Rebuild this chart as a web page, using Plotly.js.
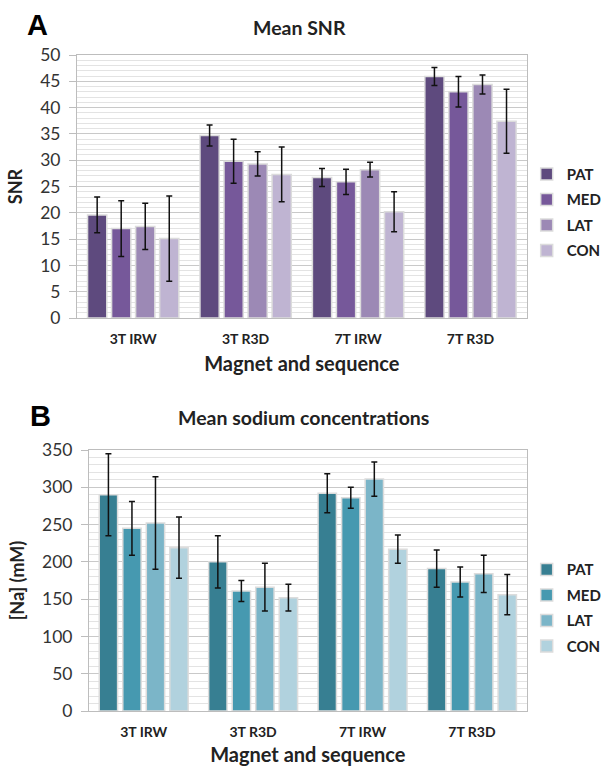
<!DOCTYPE html>
<html>
<head>
<meta charset="utf-8">
<script src="https://cdn.plot.ly/plotly-3.0.1.min.js"></script>
<style>
html,body{margin:0;padding:0;background:#fff;}
#a,#b{width:604px;height:383px;}
</style>
</head>
<body>
<div id="a"></div>
<div id="b"></div>
<script>
const categories = ["3T IRW", "3T R3D", "7T IRW", "7T R3D"];
const seriesNames = ["PAT", "MED", "LAT", "CON"];

// Panel A: Mean SNR
const snrPAT = [19.6, 34.7, 26.7, 45.9];
const snrMED = [17.0, 29.8, 25.9, 43.0];
const snrLAT = [17.4, 29.3, 28.2, 44.4];
const snrCON = [15.1, 27.3, 20.2, 37.4];
const snrErrPAT = [3.4, 2.0, 1.7, 1.7];
const snrErrMED = [5.3, 4.2, 2.4, 2.9];
const snrErrLAT = [4.4, 2.3, 1.4, 1.8];
const snrErrCON = [8.1, 5.2, 3.8, 6.1];

// Panel B: Mean sodium concentrations
const naPAT = [290, 200, 292, 191];
const naMED = [245, 161, 286, 173];
const naLAT = [252, 166, 311, 184];
const naCON = [219, 152, 217, 156];
const naErrPAT = [55, 35, 26, 25];
const naErrMED = [36, 14, 14, 20];
const naErrLAT = [62, 32, 23, 25];
const naErrCON = [41, 18, 19, 27];

const purple = ["#5e4a7e", "#76589a", "#9c89b5", "#bfb4d2"];
const teal = ["#377f92", "#4699b0", "#7bb5c8", "#b1d2de"];

const FONT = "Lato, 'Open Sans', sans-serif";

function makeTraces(vals, errs, colors) {
  return vals.map((v, i) => ({
    type: "bar",
    name: seriesNames[i],
    legendgroup: seriesNames[i],
    x: categories,
    y: v,
    marker: {color: colors[i], line: {color: "#dcdcdc", width: 1.5}},
    error_y: {type: "data", array: errs[i], visible: true, color: "#111", thickness: 1.5, width: 3}
  }));
}

function makeLayout(opts) {
  return {
    width: 604, height: 383,
    margin: opts.margin,
    paper_bgcolor: "#fff", plot_bgcolor: "#fff",
    barmode: "group",
    bargap: opts.bargap, bargroupgap: opts.bargroupgap,
    showlegend: true,
    legend: {xref: "container", yref: "container", x: 0.872, xanchor: "left", y: opts.legendY, yanchor: "middle",
             font: {family: FONT, size: 15, color: "#222", weight: "bold"},
             tracegroupgap: 3, itemwidth: 30, traceorder: "grouped", bgcolor: "rgba(0,0,0,0)"},
    font: {family: FONT, color: "#333"},
    xaxis: {
      type: "category",
      showline: true, linecolor: "#bdbdbd", linewidth: 1,
      showgrid: false, ticks: "",
      ticklabelstandoff: 8,
      tickfont: {family: FONT, size: 14, color: "#222", weight: "bold"},
      title: {text: "Magnet and sequence", font: {family: FONT, size: 20, color: "#222", weight: "bold"}, standoff: 11},
      mirror: true
    },
    yaxis: {
      range: opts.yrange, dtick: opts.dtick, tick0: 0,
      showline: true, linecolor: "#bdbdbd", linewidth: 1, mirror: true,
      ticks: "outside", ticklen: 7, tickcolor: "#bdbdbd",
      ticklabelstandoff: 5,
      gridcolor: "#c9c9c9", gridwidth: 1,
      minor: {dtick: opts.minor, showgrid: true, gridcolor: "#e3e3e3", gridwidth: 1},
      zeroline: false,
      tickfont: {family: FONT, size: 17.5, color: "#333"},
      title: {text: opts.ytitle, font: {family: FONT, size: 18, color: "#222", weight: "bold"}, standoff: opts.ystandoff}
    },
    annotations: [
      {text: opts.letter, xref: "paper", yref: "paper", x: opts.letterX, y: opts.letterY,
       xanchor: "left", yanchor: "middle", showarrow: false,
       font: {family: "'Liberation Sans', Arial, sans-serif", size: 29, color: "#000", weight: "bold"}},
      {text: opts.title, xref: "paper", yref: "paper", x: opts.titleX, y: opts.titleY,
       xanchor: "center", yanchor: "middle", showarrow: false,
       font: {family: FONT, size: 19.5, color: "#222", weight: "bold"}}
    ]
  };
}

const tracesA = makeTraces([snrPAT, snrMED, snrLAT, snrCON], [snrErrPAT, snrErrMED, snrErrLAT, snrErrCON], purple);
const layoutA = makeLayout({
  margin: {l: 77, r: 67, t: 55, b: 65, pad: 0},
  bargap: 0.145, bargroupgap: 0.2,
  legendY: 0.446,
  yrange: [0, 50], dtick: 5, minor: 1,
  ytitle: "SNR", ystandoff: 12,
  letter: "A", letterX: -0.115, letterY: 1.115,
  title: "Mean SNR", titleX: 0.495, titleY: 1.105
});

const tracesB = makeTraces([naPAT, naMED, naLAT, naCON], [naErrPAT, naErrMED, naErrLAT, naErrCON], teal);
const layoutB = makeLayout({
  margin: {l: 89, r: 67, t: 67, b: 55, pad: 0},
  bargap: 0.14, bargroupgap: 0.22,
  legendY: 0.413,
  yrange: [0, 350], dtick: 50, minor: 10,
  ytitle: "[Na] (mM)", ystandoff: 12,
  letter: "B", letterX: -0.14, letterY: 1.13,
  title: "Mean sodium concentrations", titleX: 0.49, titleY: 1.125
});

Plotly.newPlot("a", tracesA, layoutA, {displayModeBar: false, staticPlot: true});
Plotly.newPlot("b", tracesB, layoutB, {displayModeBar: false, staticPlot: true});
</script>
</body>
</html>
